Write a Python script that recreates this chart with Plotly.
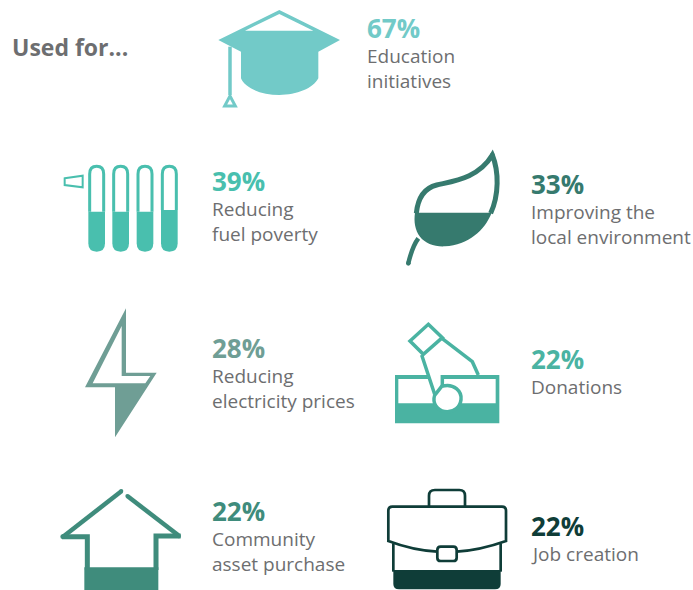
import re
import plotly.graph_objects as go

categories = ["Education<br>initiatives", "Reducing<br>fuel poverty", "Improving the<br>local environment",
              "Reducing<br>electricity prices", "Donations", "Community<br>asset purchase", "Job creation"]
values = [67, 39, 33, 28, 22, 22, 22]
colors = ["#72CAC8", "#49BFAE", "#367A6E", "#6F9E95", "#4AB3A2", "#3F8C7C", "#0F3D38"]
title_text = "Used for..."

# text anchors, in picture pixels: x, y of the percentage, y of the label
text_pos = [(367, 27.5, 68), (212, 181, 221), (531, 184, 224), (212, 347.5, 388),
            (531, 359, 387), (212, 510.5, 551), (531, 525.5, 554)]

GREY = "#6D6E70"
shapes = []


def T(path, ox, oy):
    """Turn a path drawn in 3x crop coordinates into picture pixels."""
    nums = iter(range(100000))
    def rep(m):
        v = float(m.group(0))
        return f"{(v / 3 + (ox if next(nums) % 2 == 0 else oy)):.2f}"
    return re.sub(r"-?\d+\.?\d*", rep, path)


def add(path, ox, oy, fill=None, line=None, w=0):
    shapes.append(dict(type="path", path=T(path, ox, oy), xref="x", yref="y", layer="above",
                       fillcolor=fill or "rgba(0,0,0,0)",
                       line=dict(color=line or "rgba(0,0,0,0)", width=w)))


def dot(x, y, r, ox, oy, fill):
    add(f"M{x-r} {y} Q{x-r} {y-r} {x} {y-r} Q{x+r} {y-r} {x+r} {y} Q{x+r} {y+r} {x} {y+r} Q{x-r} {y+r} {x-r} {y} Z",
        ox, oy, fill=fill)


# Graduation cap
c = colors[0]
add("M55 120 L238 30 L420 120 L355 155 L355 235 C340 265 290 285 238 285 C185 285 135 265 123 235 L123 155 Z", 200, 0, fill=c)
add("M135 92 L238 42 L340 92 Z", 200, 0, fill="white")
add("M90 140 L90 285", 200, 0, line=c, w=3.5)
add("M90 288 L106 318 L74 318 Z", 200, 0, line=c, w=3, fill="white")

# Radiator
c = colors[1]
for i, (x0, top) in enumerate(zip([115, 187, 260, 333], [200, 200, 200, 195])):
    x1 = x0 + 50
    m = x0 + 25
    add(f"M{x0} {top} L{x1} {top} L{x1} 295 Q{x1} 320 {m} 320 Q{x0} 320 {x0} 295 Z", 50, 145, fill=c)
    add(f"M{x0+4} {top} L{x0+4} 87 Q{x0+4} 64 {m} 64 Q{x1-4} 64 {x1-4} 87 L{x1-4} {top}", 50, 145, line=c, w=3)
add("M44 100 L98 92 L98 127 L44 120 Z", 50, 145, line=c, w=2)

# Leaf
c = colors[2]
add("M60 203 L290 203 C270 255 220 300 150 304 C120 306 90 295 75 275 C60 255 56 230 60 203 Z", 395, 145, fill=c)
add("M64 205 C68 165 85 130 125 120 C175 108 250 100 292 30 C312 80 312 150 287 205", 395, 145, line=c, w=5)
add("M70 280 C55 300 47 325 40 355", 395, 145, line=c, w=4.5)
dot(40, 355, 7, 395, 145, c)
dot(292, 30, 7, 395, 145, c)

# Lightning bolt
c = colors[3]
add("M168 25 L45 262 L135 262 L135 412 L260 218 L168 218 Z", 70, 300, fill=c)
add("M155 78 L68 250 L226 250 L241 228 L155 228 Z", 70, 300, fill="white")

# Banknote and hand
c = colors[4]
add("M30 180 L343 180 L343 325 L30 325 Z", 385, 315, fill=c)
add("M40 192 L332 192 L332 265 L40 265 Z", 385, 315, fill="white")
add("M125 175 L172 175 L172 210 L140 230 Z", 385, 315, fill="white")
add("M172 180 L172 215", 385, 315, line=c, w=3.5)
add("M110 120 L148 235 L165 238", 385, 315, line=c, w=3.5)
add("M168 68 L262 140 L280 180", 385, 315, line=c, w=3.5)
add("M130 28 L172 68 L115 118 L75 78 Z", 385, 315, line=c, w=3.5)
add("M170 214 C208 203 231 230 228 254 C225 277 207 290 187 290 C163 290 145 271 147 250 C147 245 149 240 152 237 Z", 385, 315, fill="white", line=c, w=3.5)

# House
c = colors[5]
add("M103 262 L325 262 L325 335 L103 335 Z", 50, 480, fill=c)
add("M215 33 L42 168", 50, 480, line=c, w=4.5)
add("M232 48 L385 166", 50, 480, line=c, w=4.5)
add("M36 170 L112 170 L112 270", 50, 480, line=c, w=5)
add("M392 168 L318 168 L318 270", 50, 480, line=c, w=5)
dot(38, 170, 7, 50, 480, c)
dot(386, 168, 7, 50, 480, c)
dot(214, 33, 6, 50, 480, c)
dot(232, 48, 6, 50, 480, c)

# Briefcase
c = colors[6]
add("M40 270 L362 270 L362 312 Q362 328 345 328 L57 328 Q40 328 40 312 Z", 380, 480, fill=c)
add("M40 190 L40 275", 380, 480, line=c, w=2.7)
add("M362 190 L362 275", 380, 480, line=c, w=2.7)
add("M147 78 L147 47 Q147 30 165 30 L238 30 Q255 30 255 47 L255 78", 380, 480, line=c, w=2.7)
add("M37 80 L366 80 Q378 80 378 92 L378 183 C330 200 280 212 230 215 L172 215 C120 212 70 200 25 183 L25 92 Q25 80 37 80 Z", 380, 480, fill="white", line=c, w=2.7)
add("M182 200 L220 200 Q230 200 230 210 L230 233 Q230 243 220 243 L182 243 Q172 243 172 233 L172 210 Q172 200 182 200 Z", 380, 480, fill="white", line=c, w=2.7)

annotations = [dict(x=10, y=47, text=f"<b>{title_text}</b>", showarrow=False, xanchor="left", yanchor="middle",
                    font=dict(size=23, color=GREY, family="Open Sans"))]
for cat, val, col, (x, yp, yl) in zip(categories, values, colors, text_pos):
    annotations.append(dict(x=x, y=yp, text=f"<b>{val}%</b>", showarrow=False, xanchor="left", yanchor="middle",
                            xshift=-2, font=dict(size=26, color=col, family="Open Sans")))
    annotations.append(dict(x=x, y=yl, text=cat, showarrow=False, xanchor="left", yanchor="middle", align="left",
                            xshift=-2, font=dict(size=19, color=GREY, family="Open Sans")))

fig = go.Figure()
fig.update_layout(
    width=693, height=590, margin=dict(l=0, r=0, t=0, b=0),
    paper_bgcolor="white", plot_bgcolor="white", showlegend=False,
    xaxis=dict(range=[0, 693], visible=False, fixedrange=True),
    yaxis=dict(range=[590, 0], visible=False, fixedrange=True),
    shapes=shapes, annotations=annotations,
)
fig.write_html("out.html", config=dict(displayModeBar=False),
               post_script="document.body.style.margin='0';document.documentElement.style.overflow='hidden';")
